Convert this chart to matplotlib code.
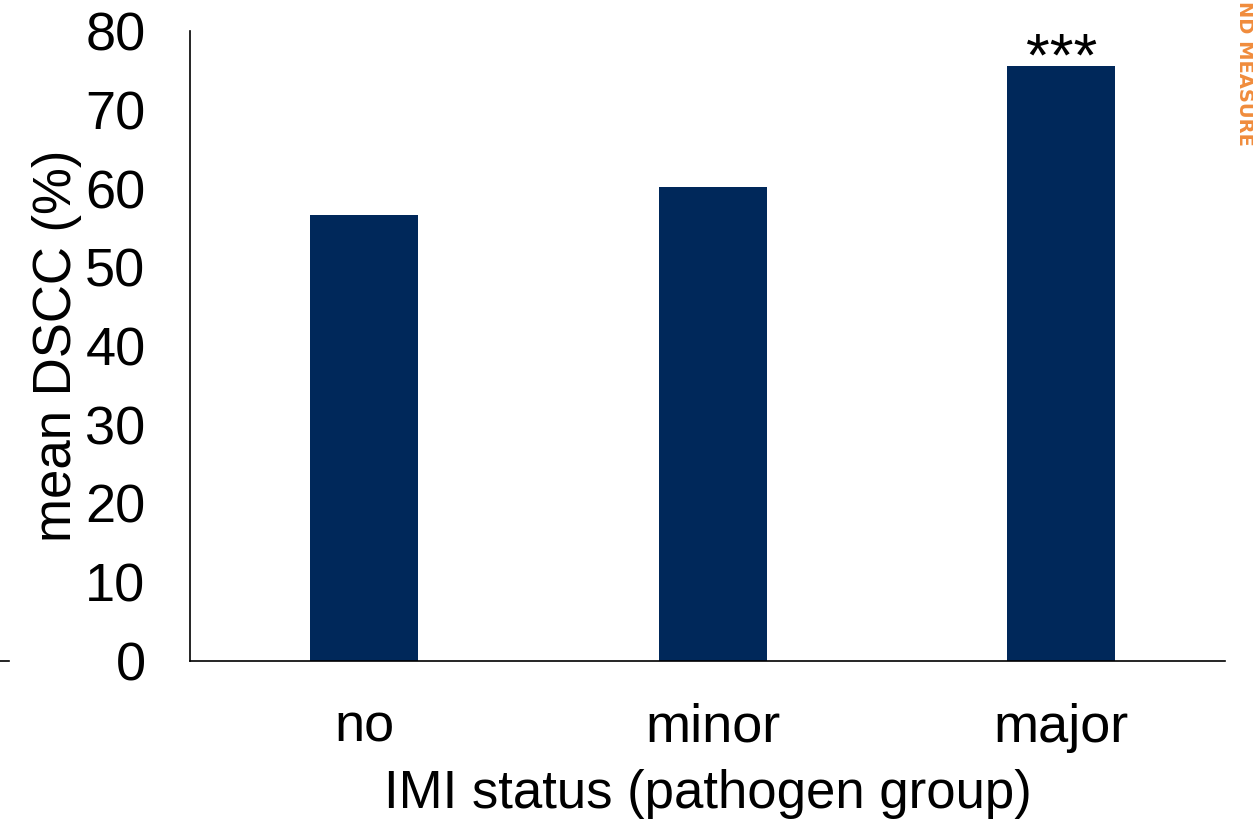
import matplotlib
matplotlib.use("Agg")
import matplotlib.pyplot as plt

categories = ["no", "minor", "major"]
mean_dscc = [56.6, 60.2, 75.6]
significance = ["", "", "***"]

plt.rcParams['font.family'] = ['Liberation Sans', 'DejaVu Sans']

fig = plt.figure(figsize=(12.53, 8.24), dpi=100)
ax = fig.add_axes([0.1516, 0.198, 0.826, 0.764])

x = range(len(categories))
bars = ax.bar(x, mean_dscc, width=0.31, color="#00285A")

for bar, s in zip(bars, significance):
    if s:
        ax.text(bar.get_x() + bar.get_width() / 2, bar.get_height() - 2.9, s,
                ha="center", va="bottom", fontsize=44,
                path_effects=[])

ax.set_ylim(0, 80)
ax.set_xlim(-0.5, 2.47)
ax.set_yticks(range(0, 81, 10))
ax.set_xticks(list(x))
ax.set_xticklabels(categories)
ax.tick_params(axis="both", length=0, labelsize=39)
ax.tick_params(axis="y", pad=32)
ax.tick_params(axis="x", pad=30)

for side in ["top", "right"]:
    ax.spines[side].set_visible(False)
ax.spines["left"].set_linewidth(1.2)
ax.spines["bottom"].set_linewidth(1.2)

ax.set_ylabel("mean DSCC (%)", fontsize=38, labelpad=2)
ax.set_xlabel("IMI status (pathogen group)", fontsize=38, labelpad=12)

# stray fragments at the picture edges
fig.add_artist(plt.Line2D([0, 0.007], [0.198, 0.198], color="black", lw=1.2))
fig.text(0.9936, 0.999, "ND MEASURE", rotation=270, color="#F08C3C",
         fontsize=14, fontweight="bold", family="DejaVu Sans",
         ha="center", va="top")

fig.savefig("out.png", dpi=100)
